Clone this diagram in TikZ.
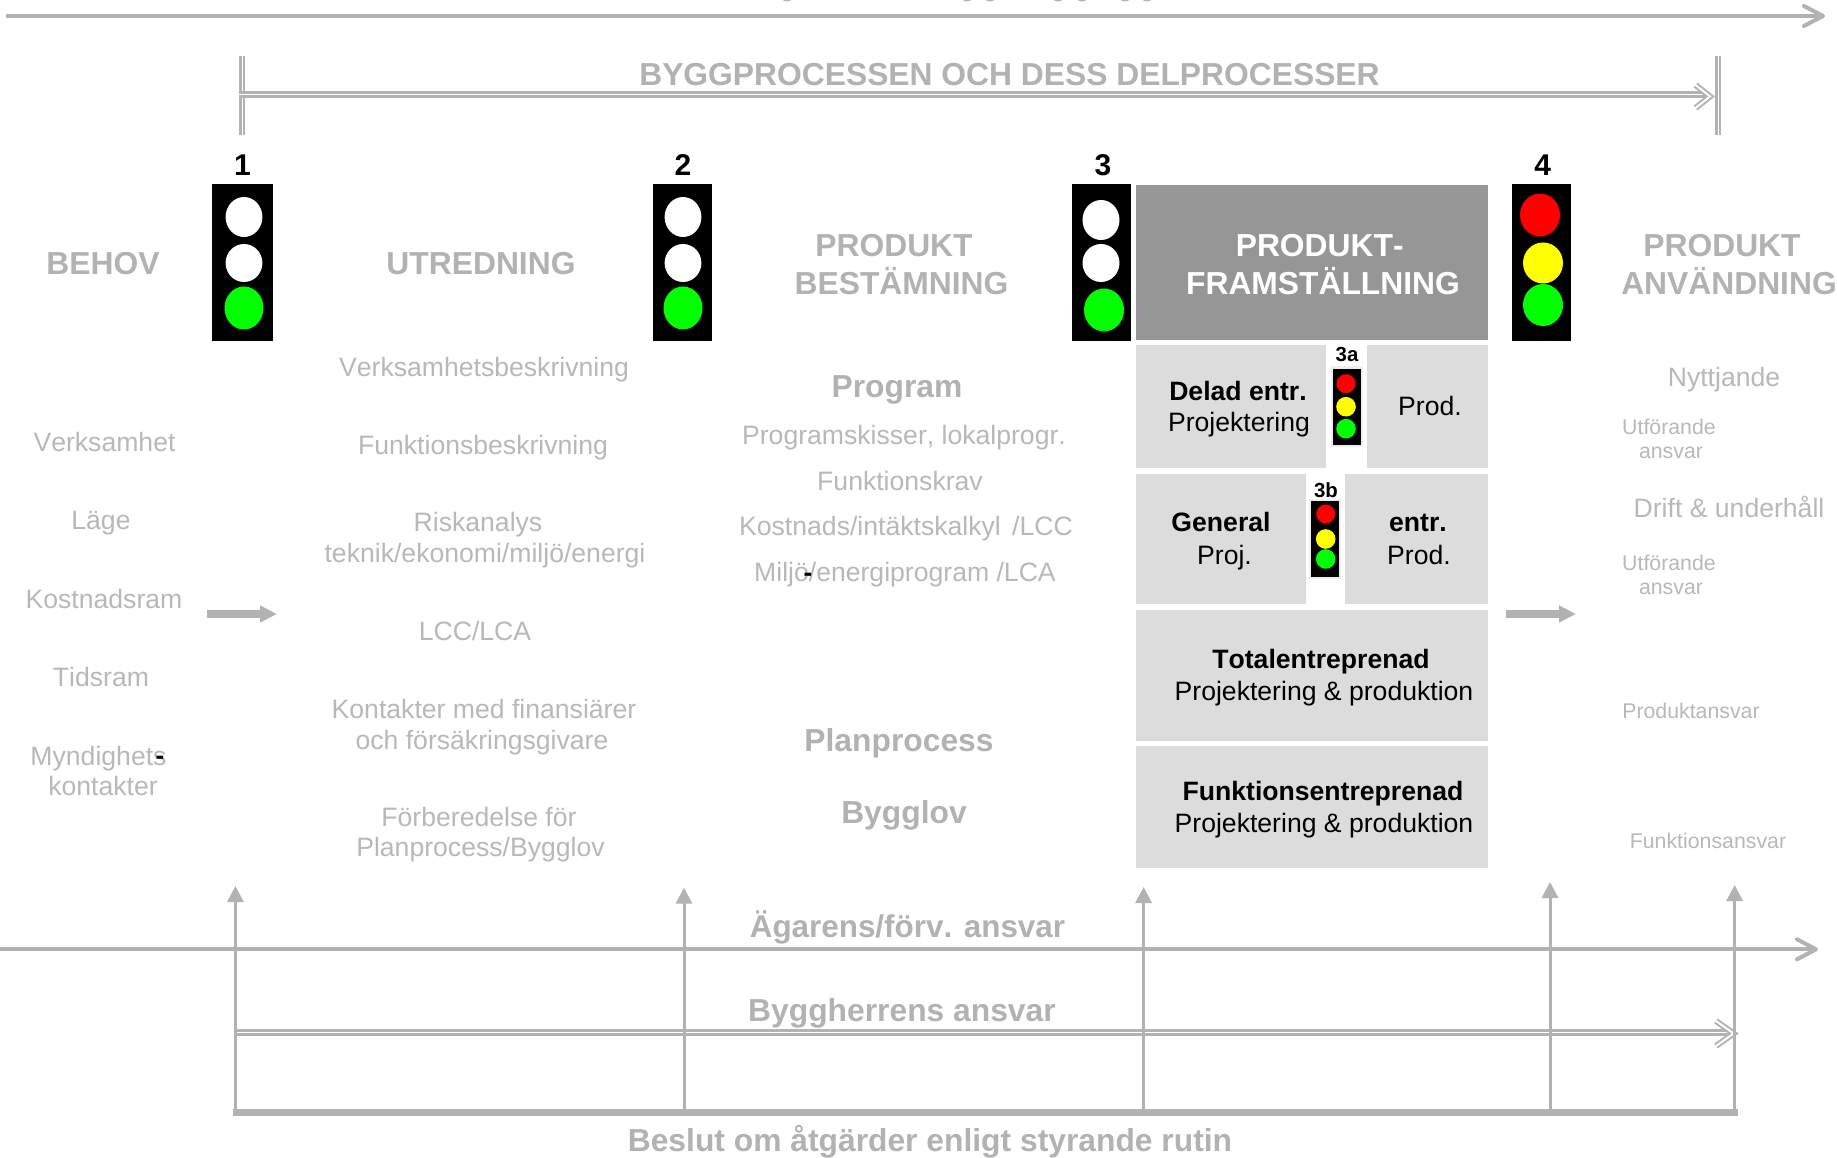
\documentclass[tikz,border=0pt]{standalone}
\usepackage{fontspec}
\setmainfont[Kerning=Off]{Liberation Sans}
\usetikzlibrary{arrows.meta}
\definecolor{lg}{HTML}{B2B2B2}
\definecolor{lt}{HTML}{B8B8B8}
\definecolor{boxg}{HTML}{DCDCDC}
\definecolor{darkg}{HTML}{969696}
\definecolor{halo}{HTML}{EEEEEE}
\definecolor{sig}{HTML}{00FF00}
\definecolor{sir}{HTML}{FF0000}
\definecolor{siy}{HTML}{FFFF00}
\tikzset{
  lab/.style={anchor=base,inner sep=0pt,outer sep=0pt},
  headtxt/.style={lab,text=lg,font=\fontsize{31.8}{36}\selectfont\bfseries},
  bodytxt/.style={lab,text=lt,font=\fontsize{26.6}{30}\selectfont},
  smalltxt/.style={lab,text=lt,font=\fontsize{21.3}{24}\selectfont},
  bbold/.style={lab,text=black,font=\fontsize{26.6}{30}\selectfont\bfseries},
  bbody/.style={lab,text=black,font=\fontsize{26.6}{30}\selectfont},
  numtxt/.style={lab,text=black,font=\fontsize{30}{34}\selectfont\bfseries},
  subnum/.style={lab,text=black,font=\fontsize{20.4}{24}\selectfont\bfseries},
  hyph/.style={lab,text=black,font=\fontsize{26}{28}\selectfont\bfseries},
  pale/.style={fill=boxg,draw=none},
  lightbox/.style={fill=black,draw=none},
  haloed/.style={fill=halo,draw=none},
  thinline/.style={draw=lg,line width=4pt},
  openarr/.style={thinline,-{Straight Barb[length=19pt,width=20pt,line width=4pt,round]}},
  dbl/.style={draw=lg,line width=3pt,double=white,double distance=1pt},
  endbar/.style={draw=lg,line width=2.5pt,double=white,double distance=1pt},
  dblh/.style={draw=lg,line width=2pt,double=white,double distance=2pt,line join=miter},
  upar/.style={draw=lg,line width=3pt,-{Triangle[length=16pt,width=16pt]}},
  flow/.style={draw=lg,line width=8pt,-{Triangle[length=17pt,width=16pt]}},
  frag/.style={fill=lg,draw=none},
}
\begin{document}
\begin{tikzpicture}[x=1pt,y=-1pt]
\useasboundingbox (0,0) rectangle (1837,1158);
\fill[white] (0,0) rectangle (1837,1158);

% clipped remnants of the heading above the top edge
\begin{scope}
\clip (0,0) rectangle (1837,1158);
\foreach \cx in {787,967,990,1058,1082,1125,1147} \fill[frag] (\cx,-1) ellipse (4.5 and 2.5);
\end{scope}

% top arrow
\coordinate (t0) at (6,16); \coordinate (t1) at (1825,16);
\draw[openarr] (t0) -- (t1);

% process bar
\coordinate (pl1) at (242,56); \coordinate (pl2) at (242,135);
\coordinate (pr1) at (1718,56); \coordinate (pr2) at (1718,135);
\coordinate (p0) at (239,95); \coordinate (p1) at (1708,95);
\coordinate (pa) at (1695.5,85); \coordinate (pb) at (1695.5,108); \coordinate (pt) at (1710,96.5);
\draw[endbar] (pl1) -- (pl2);
\draw[endbar] (pr1) -- (pr2);
\draw[dbl] (p0) -- (p1);
\draw[dblh] (pa) -- (pt) -- (pb);
\node[headtxt] (title) at (1009.5,86) {BYGGPROCESSEN OCH DESS DELPROCESSER};

% numbers
\node[numtxt] (n1) at (242.5,175.7) {1};
\node[numtxt] (n2) at (683,175.7) {2};
\node[numtxt] (n3) at (1103,175.7) {3};
\node[numtxt] (n4) at (1542.6,175.7) {4};

% traffic light 1
\fill[lightbox] (212,184) rectangle (273,341);
\fill[white] (244,217) ellipse (18.4 and 20);
\fill[white] (244,263) ellipse (18.4 and 19);
\fill[sig] (244,308) ellipse (19.5 and 21.5);
% traffic light 2
\fill[lightbox] (653,184) rectangle (712,341);
\fill[white] (683,217) ellipse (18.4 and 20);
\fill[white] (683,263) ellipse (18.4 and 19);
\fill[sig] (683,308) ellipse (19.5 and 21.5);
% traffic light 3
\fill[lightbox] (1072,184) rectangle (1131,341);
\fill[white] (1101,220) ellipse (18.5 and 20);
\fill[white] (1101,263) ellipse (18.5 and 19);
\fill[sig] (1104,310) ellipse (20 and 21.5);
% traffic light 4
\fill[lightbox] (1512,184) rectangle (1571,341);
\fill[sir] (1540,215) ellipse (20 and 21.5);
\fill[siy] (1543,263) ellipse (20 and 20.5);
\fill[sig] (1543,305) ellipse (20 and 21);

% column heads
\node[headtxt] (behov) at (103,275) {BEHOV};
\node[headtxt] (utr) at (481,275) {UTREDNING};
\node[headtxt] (pb1) at (894,256.7) {PRODUKT};
\node[headtxt] (pb2) at (901.5,294.7) {BESTÄMNING};
\node[headtxt] (pu1) at (1722,256.7) {PRODUKT};
\node[headtxt] (pu2) at (1729,294.7) {ANVÄNDNING};

% production boxes
\fill[darkg] (1136,185) rectangle (1488,340);
\node[headtxt,text=white] (pf1) at (1319.7,256.7) {PRODUKT-};
\node[headtxt,text=white] (pf2) at (1323,294.7) {FRAMSTÄLLNING};
\fill[pale] (1136,345) rectangle (1326,468);
\fill[pale] (1367,345) rectangle (1488,468);
\fill[pale] (1136,474) rectangle (1306,604);
\fill[pale] (1345,474) rectangle (1488,604);
\fill[pale] (1136,610) rectangle (1488,741);
\fill[pale] (1136,746) rectangle (1488,868);

\node[bbold] (de) at (1238,400) {Delad entr.};
\node[bbody] (dp) at (1239,431.7) {Projektering};
\node[bbody] (dr) at (1430,415.7) {Prod.};
\node[bbold] (ge) at (1221,531.7) {General};
\node[bbody] (gp) at (1224.5,564.3) {Proj.};
\node[bbold] (ee) at (1418,531.7) {entr.};
\node[bbody] (ep) at (1419,564.3) {Prod.};
\node[bbold] (te) at (1321,668) {Totalentreprenad};
\node[bbody] (tp) at (1324,700.7) {Projektering \& produktion};
\node[bbold] (fe) at (1323,800) {Funktionsentreprenad};
\node[bbody] (fp) at (1324,832) {Projektering \& produktion};

% small light 3a
\node[subnum] (n3a) at (1347,362) {3a};
\fill[haloed] (1331,366) rectangle (1363,447);
\fill[lightbox] (1333,369) rectangle (1360.5,445);
\fill[sir] (1346,383.7) circle (9.5);
\fill[siy] (1346,406.7) circle (9.8);
\fill[sig] (1346,428.7) circle (9.8);
% small light 3b
\node[subnum] (n3b) at (1326,497) {3b};
\fill[haloed] (1309,499) rectangle (1340.7,579);
\fill[lightbox] (1311,501) rectangle (1338.7,576.7);
\fill[sir] (1325.7,514) circle (9.5);
\fill[siy] (1325.7,539) circle (9.8);
\fill[sig] (1325.7,559) circle (9.8);

% left column
\node[bodytxt] (l1) at (104.5,451.7) {Verksamhet};
\node[bodytxt] (l2) at (101,529.5) {Läge};
\node[bodytxt] (l3) at (104,608) {Kostnadsram};
\node[bodytxt] (l4) at (101,686) {Tidsram};
\node[bodytxt] (l5) at (98.5,765) {Myndighets};
\node[hyph] (l5m) at (160,764) {-};
\node[bodytxt] (l6) at (103,795) {kontakter};

% middle column
\node[bodytxt] (m1) at (484,376) {Verksamhetsbeskrivning};
\node[bodytxt] (m2) at (483,454.3) {Funktionsbeskrivning};
\node[bodytxt] (m3) at (478,531.8) {Riskanalys};
\node[bodytxt] (m4) at (485,562) {teknik/ekonomi/miljö/energi};
\node[bodytxt] (m5) at (475,640.3) {LCC/LCA};
\node[bodytxt] (m6) at (484,718) {Kontakter med finansiärer};
\node[bodytxt] (m7) at (482,749) {och försäkringsgivare};
\node[bodytxt] (m8) at (479,826.6) {Förberedelse för};
\node[bodytxt] (m9) at (480.5,856.5) {Planprocess/Bygglov};

% product definition column
\node[headtxt] (c1) at (897,397) {Program};
\node[bodytxt] (c2) at (904,444) {Programskisser, lokalprogr.};
\node[bodytxt] (c3) at (900,490) {Funktionskrav};
\node[bodytxt] (c4) at (906,535.7) {Kostnads/intäktskalkyl\hspace{4pt} /LCC};
\node[bodytxt] (c5) at (905,581.7) {Miljö/energiprogram /LCA};
\node[hyph] (c5m) at (808,581) {-};
\node[headtxt] (c6) at (899,751.7) {Planprocess};
\node[headtxt] (c7) at (904,823) {Bygglov};

% right column
\node[bodytxt] (r1) at (1724,386.5) {Nyttjande};
\node[smalltxt] (r2) at (1669,434.7) {Utförande};
\node[smalltxt] (r3) at (1671,458.8) {ansvar};
\node[bodytxt] (r4) at (1729,517.3) {Drift \& underhåll};
\node[smalltxt] (r5) at (1669,570.7) {Utförande};
\node[smalltxt] (r6) at (1671,594.8) {ansvar};
\node[smalltxt] (r7) at (1691,718.8) {Produktansvar};
\node[smalltxt] (r8) at (1708,848.6) {Funktionsansvar};

% flow arrows
\coordinate (f1a) at (207,614); \coordinate (f1b) at (277,614);
\coordinate (f2a) at (1506,614); \coordinate (f2b) at (1576,614);
\draw[flow] (f1a) -- (f1b);
\draw[flow] (f2a) -- (f2b);

% responsibility lines
\coordinate (o0) at (0,949.3); \coordinate (o1) at (1818,949.3);
\draw[openarr] (o0) -- (o1);
\coordinate (h0) at (234,1032.7); \coordinate (h1) at (1730,1032.7);
\coordinate (ha) at (1716,1021); \coordinate (hb) at (1716,1046); \coordinate (ht) at (1733.6,1033.5);
\draw[dbl] (h0) -- (h1);
\draw[dblh] (ha) -- (ht) -- (hb);
\coordinate (b0) at (233,1112.7); \coordinate (b1) at (1738.4,1112.7);

% decision arrows
\coordinate (u1) at (235.4,1112); \coordinate (v1) at (235.4,886);
\coordinate (u2) at (684,1112);   \coordinate (v2) at (684,887.7);
\coordinate (u3) at (1143.6,1112); \coordinate (v3) at (1143.6,887);
\coordinate (u4) at (1550,1112);  \coordinate (v4) at (1550,882);
\coordinate (u5) at (1734.6,1112); \coordinate (v5) at (1734.6,885);
\draw[upar] (u1) -- (v1);
\draw[upar] (u2) -- (v2);
\draw[upar] (u3) -- (v3);
\draw[upar] (u4) -- (v4);
\draw[upar] (u5) -- (v5);
\draw[draw=lg,line width=6.6pt] (b0) -- (b1);

\node[headtxt,font=\fontsize{31.4}{36}\selectfont\bfseries] (own) at (907.5,937.3) {Ägarens/förv. ansvar};
\node[headtxt] (byg) at (902,1021.7) {Byggherrens ansvar};
\node[headtxt] (bes) at (930,1151.7) {Beslut om åtgärder enligt styrande rutin};
\end{tikzpicture}
\end{document}
